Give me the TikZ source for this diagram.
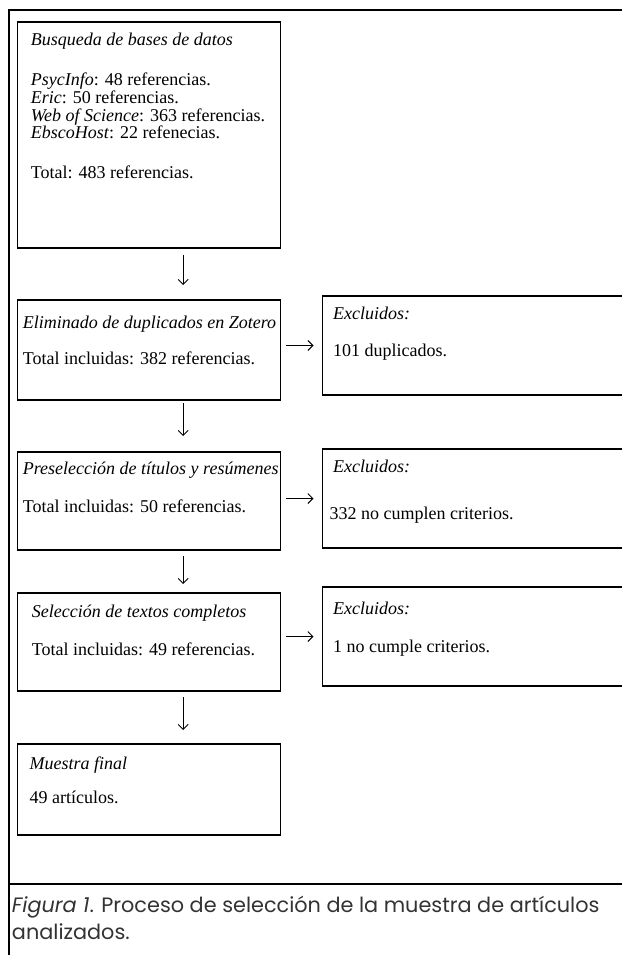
\documentclass[tikz,border=0pt]{standalone}
\usepackage{fontspec}
\setmainfont{Liberation Serif}
\newfontfamily\piefont{Poppins}
\usetikzlibrary{arrows.meta, calc}
\tikzset{caja/.style={draw, transform shape, line width=1.1pt, minimum width=313pt, anchor=north west, inner sep=0pt, outer sep=0pt}}
\tikzset{excl/.style={caja, minimum width=380pt}}
\tikzset{txt/.style={anchor=base west, inner sep=0pt}}
\tikzset{pie/.style={txt, text=black!80, font=\piefont\fontsize{20.8pt}{27pt}\selectfont}}
\tikzset{flecha/.style={-{Straight Barb[length=5pt, width=10pt]}, line width=0.9pt}}
\tikzset{marco/.style={line width=1.6pt}}

\begin{document}
\begin{tikzpicture}[x=1pt, y=-1pt, xscale=0.8405, font=\fontsize{18pt}{17.6pt}\selectfont]
            \path[use as bounding box, clip] (0,0) rectangle (740,955);
            \draw[marco] (10.7,960) -- (10.7,10) -- (760,10);
            \draw[marco, line width=2pt] (10.7,884) -- (760,884);
            \coordinate (eje) at (218,0);
            \node[caja, minimum height=226pt] (busqueda) at (20.6,22) {};
            \node[caja, minimum height=100pt] (duplicados) at (20.6,300) {};
            \node[caja, minimum height=98pt] (preseleccion) at (20.6,452) {};
            \node[caja, minimum height=98pt] (seleccion) at (20.6,593) {};
            \node[caja, minimum height=91pt] (muestra) at (20.6,744) {};
            \node[excl, minimum height=99pt] (excl1) at (384,296) {};
            \node[excl, minimum height=99pt] (excl2) at (384,449) {};
            \node[excl, minimum height=99pt] (excl3) at (384,587) {};
            \node[txt] (t-busqueda) at (36.5,46) {\textit{Busqueda de bases de datos}};
            \node[txt] (psycinfo) at (36.5,86) {\textit{PsycInfo}: 48 referencias.};
            \node[txt] (eric) at (36.5,103.6) {\textit{Eric}: 50 referencias.};
            \node[txt] (wos) at (36.5,121.2) {\textit{Web of Science}: 363 referencias.};
            \node[txt] (ebsco) at (36.5,138.8) {\textit{EbscoHost}: 22 refenecias.};
            \node[txt] (total) at (36.5,178) {Total: 483 referencias.};
            \node[txt] (t-duplicados) at (27,328) {\textit{Eliminado de duplicados en Zotero}};
            \node[txt] (n-duplicados) at (27,364) {Total incluidas: 382 referencias.};
            \node[txt] (t-preseleccion) at (27,474) {\textit{Preselección de títulos y resúmenes}};
            \node[txt] (n-preseleccion) at (27,512) {Total incluidas: 50 referencias.};
            \node[txt] (t-seleccion) at (37.7,617) {\textit{Selección de textos completos}};
            \node[txt] (n-seleccion) at (37.7,655) {Total incluidas: 49 referencias.};
            \node[txt] (t-muestra) at (35,769) {\textit{Muestra final}};
            \node[txt] (n-muestra) at (35,803) {49 artículos.};
            \node[txt] (t-excl1) at (396,319) {\textit{Excluidos:}};
            \node[txt] (n-excl1) at (396,356) {101 duplicados.};
            \node[txt] (t-excl2) at (396,472) {\textit{Excluidos:}};
            \node[txt] (n-excl2) at (392,519) {332 no cumplen criterios.};
            \node[txt] (t-excl3) at (396,614) {\textit{Excluidos:}};
            \node[txt] (n-excl3) at (396,652) {1 no cumple criterios.};
            \draw[flecha] ($(busqueda.south -| eje)+(0,7)$) -- ($(duplicados.north -| eje)+(0,-15)$);
            \draw[flecha] ($(duplicados.south -| eje)+(0,3)$) -- ($(preseleccion.north -| eje)+(0,-16)$);
            \draw[flecha] ($(preseleccion.south -| eje)+(0,6)$) -- ($(seleccion.north -| eje)+(0,-9)$);
            \draw[flecha] ($(seleccion.south -| eje)+(0,6)$) -- ($(muestra.north -| eje)+(0,-14)$);
            \draw[flecha] ($(duplicados.east |- excl1.west)+(6.4,0)$) -- ($(excl1.west)+(-11,0)$);
            \draw[flecha] ($(preseleccion.east |- excl2.west)+(6.4,0)$) -- ($(excl2.west)+(-11,0)$);
            \draw[flecha] ($(seleccion.east |- excl3.west)+(6.4,0)$) -- ($(excl3.west)+(-11,0)$);
            \node[pie] (pie1) at (14,912) {\textit{Figura 1}. Proceso de selección de la muestra de artículos};
            \node[pie] (pie2) at (14,939) {analizados.};
        \end{tikzpicture}
\end{document}
